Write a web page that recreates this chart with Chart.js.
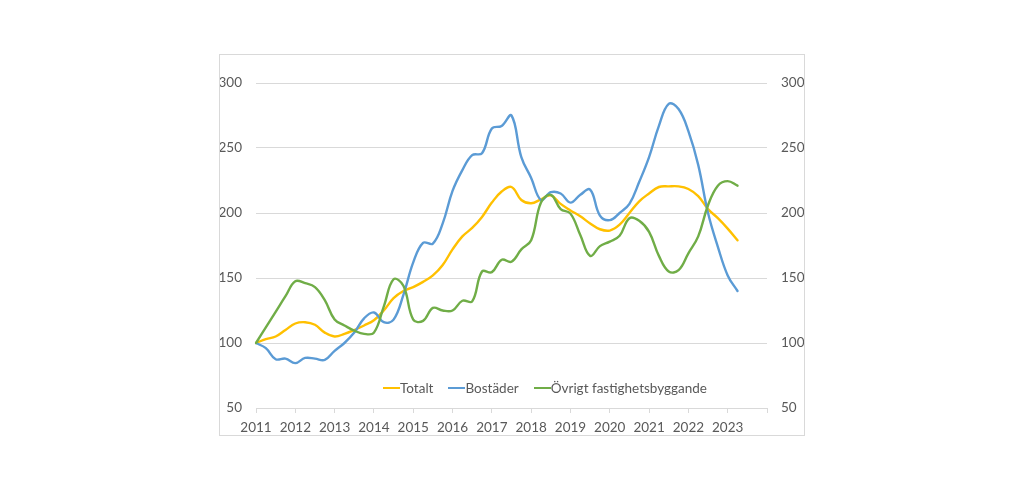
<!DOCTYPE html>
<html>
<head>
<meta charset="utf-8">
<script src="https://cdn.jsdelivr.net/npm/chart.js@4.4.0/dist/chart.umd.min.js"></script>
<style>
  body { margin: 0; background: #fff; }
  #box {
    position: absolute; left: 219px; top: 54px;
    width: 586px; height: 382px;
    border: 1px solid #d9d9d9; box-sizing: border-box;
  }
  #legend {
    position: absolute; left: 383px; top: 379px; height: 18px;
    display: flex; align-items: center;
    font-family: Lato, sans-serif; font-size: 13.5px; color: #595959;
  }
  .item { display: flex; align-items: center; margin-right: 15px; }
  .mark { width: 17px; height: 2.5px; }
</style>
</head>
<body>
<div id="box"><canvas id="myChart" width="584" height="380"></canvas></div>
<div id="legend"></div>
<script>
// kvartal 2011K1 - 2023K2, index 2011 = 100
const years = ['2011', '2012', '2013', '2014', '2015', '2016', '2017', '2018', '2019', '2020', '2021', '2022', '2023', '2024'];
const quarterNames = ['K1', 'K2', 'K3', 'K4'];

const totalt = [
  100, 103, 105, 110, 115, 116, 114, 108,
  105, 107, 110, 113.5, 117.5, 125, 134.5, 140,
  143, 147, 152, 160, 172, 182, 188.5, 197,
  208, 216.5, 220, 210, 207.5, 210.5, 213.5, 207,
  202, 197.5, 192, 187.5, 186.5, 191, 200, 209,
  215, 220, 220.5, 220.5, 218.5, 213, 203, 196,
  188, 179
];
const bostader = [
  100, 96, 87.5, 88, 84.5, 88.5, 88, 87,
  94, 100, 108, 119, 123.5, 116, 118, 137,
  162, 177, 176.5, 192, 217, 233, 244.5, 246,
  265, 267, 275, 243, 227, 210, 216, 215,
  208, 214, 218, 198, 194.5, 200, 207, 224,
  243, 267, 284, 280, 263, 237, 200, 174,
  152, 140
];
const ovrigt = [
  100, 112, 124, 136, 147.5, 146, 143, 133,
  118, 113.5, 109.5, 107, 108, 128, 149, 144,
  118, 117, 127, 125, 125, 132.5, 132, 155,
  154.5, 164, 162.5, 172, 179, 208, 214, 203,
  199.5, 183, 167, 174.5, 178, 182.5, 196, 194,
  185.5, 167, 155, 156, 169, 182, 206, 221,
  224.5, 221
];

const yTicks = [50, 100, 150, 200, 250, 300];

// kategorier: alla kvartal fram till 2024K1 (axelns slut)
const quarters = [];
years.forEach(y => quarterNames.forEach(q => quarters.push(y + q)));
quarters.length = quarters.length - 3;

const font = { family: 'Lato, sans-serif', size: 13.5 };
const textColor = '#595959';
const gridColor = '#d9d9d9';

const ctx = document.getElementById('myChart').getContext('2d');
const myChart = new Chart(ctx, {
  type: 'line',
  data: {
    labels: quarters,
    datasets: [
      { label: 'Totalt', data: totalt, borderColor: '#FFC000', order: 3 },
      { label: 'Bostäder', data: bostader, borderColor: '#5B9BD5', order: 2 },
      { label: 'Övrigt fastighetsbyggande', data: ovrigt, borderColor: '#70AD47', order: 1 }
    ]
  },
  options: {
    responsive: false,
    animation: false,
    layout: { padding: { top: 28, left: 0, right: 0, bottom: 0 } },
    elements: {
      line: { borderWidth: 2.4, tension: 0.4, fill: false, borderCapStyle: 'round', borderJoinStyle: 'round' },
      point: { radius: 0 }
    },
    plugins: { legend: { display: false }, tooltip: { enabled: false } },
    scales: {
      x: {
        type: 'category',
        offset: false,
        grid: {
          drawOnChartArea: false,
          drawTicks: true,
          tickLength: 5,
          tickColor: c => (c.index % 4 === 0 ? gridColor : 'rgba(0,0,0,0)')
        },
        border: { display: true, color: gridColor },
        ticks: {
          autoSkip: false,
          maxRotation: 0,
          padding: 7,
          font: font,
          color: textColor,
          callback: function (value, index) {
            const lab = this.getLabelForValue(value);
            if (index % 4 === 0 && index < quarters.length - 1) return lab.slice(0, 4);
            return '';
          }
        },
        afterFit: s => { s.height = 27; }
      },
      y: {
        position: 'left',
        min: 50,
        max: 300,
        afterBuildTicks: s => { s.ticks = yTicks.map(v => ({ value: v })); },
        grid: { color: gridColor, drawTicks: false },
        border: { display: false },
        ticks: { padding: 14, font: font, color: textColor },
        afterFit: s => { s.width = 36; }
      },
      y2: {
        position: 'right',
        min: 50,
        max: 300,
        afterBuildTicks: s => { s.ticks = yTicks.map(v => ({ value: v })); },
        grid: { drawOnChartArea: false, drawTicks: false },
        border: { display: false },
        ticks: { padding: 14, font: font, color: textColor },
        afterFit: s => { s.width = 37; }
      }
    }
  }
});

// legend som i originalet, inne i diagramytan
const legend = document.getElementById('legend');
myChart.data.datasets.forEach(ds => {
  const item = document.createElement('div');
  item.className = 'item';
  const mark = document.createElement('span');
  mark.className = 'mark';
  mark.style.background = ds.borderColor;
  const txt = document.createElement('span');
  txt.textContent = ds.label;
  item.appendChild(mark);
  item.appendChild(txt);
  legend.appendChild(item);
});
</script>
</body>
</html>
